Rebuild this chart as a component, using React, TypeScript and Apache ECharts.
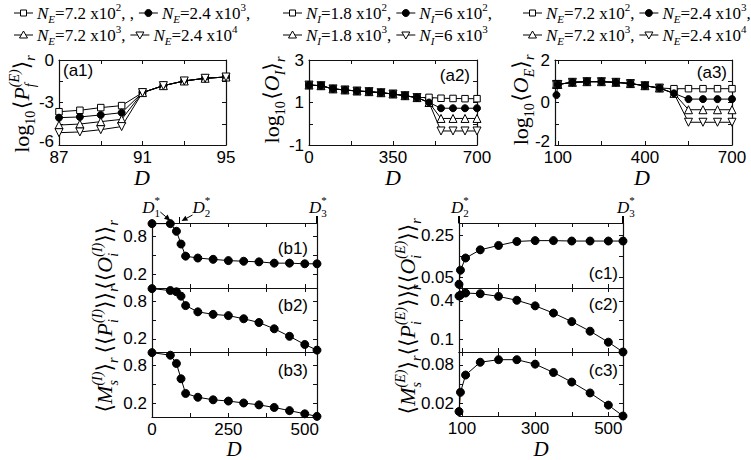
import React, { useEffect, useRef } from 'react';
import * as echarts from 'echarts';

const SERIF = "'Liberation Serif', 'DejaVu Serif', serif";
const SANS = "'Liberation Sans', Arial, sans-serif";

// ---------- data ----------
const a1D = [87, 88, 89, 90, 91, 92, 93, 94, 95];
const a1Sq = [-3.65, -3.55, -3.36, -3.22, -2.3, -1.81, -1.48, -1.29, -1.2];
const a1Fill = [-4.07, -4.02, -3.88, -3.72, -2.3, -1.81, -1.48, -1.29, -1.2];
const a1Up = [-4.59, -4.52, -4.35, -4.19, -2.3, -1.81, -1.48, -1.29, -1.2];
const a1Down = [-5.13, -5.08, -4.92, -4.7, -2.3, -1.81, -1.48, -1.29, -1.2];

const a2D = [0, 50, 100, 150, 200, 250, 300, 350, 400, 450, 500, 550, 600, 650, 700];
const a2Sq = [1.82, 1.79, 1.64, 1.59, 1.54, 1.51, 1.46, 1.4, 1.32, 1.23, 1.24, 1.2, 1.19, 1.18, 1.18];
const a2Fill = [1.82, 1.79, 1.64, 1.59, 1.54, 1.51, 1.46, 1.4, 1.32, 1.23, 1.0, 0.73, 0.73, 0.73, 0.73];
const a2Up = [1.82, 1.79, 1.64, 1.59, 1.54, 1.51, 1.46, 1.4, 1.32, 1.23, 1.0, 0.25, 0.25, 0.25, 0.25];
const a2Down = [1.82, 1.79, 1.64, 1.59, 1.54, 1.51, 1.46, 1.4, 1.32, 1.23, 1.0, -0.34, -0.34, -0.34, -0.34];

const a3D = [95, 100, 150, 200, 250, 300, 350, 400, 450, 500, 550, 600, 650, 700];
const a3Sq = [0.85, 0.85, 0.95, 0.98, 0.98, 0.95, 0.89, 0.79, 0.68, 0.65, 0.65, 0.65, 0.65, 0.65];
const a3Fill = [0.35, 0.85, 0.95, 0.98, 0.98, 0.95, 0.89, 0.79, 0.68, 0.43, 0.16, 0.16, 0.16, 0.16];
const a3Up = [0.85, 0.85, 0.95, 0.98, 0.98, 0.95, 0.89, 0.79, 0.68, 0.43, -0.34, -0.34, -0.34, -0.34];
const a3Down = [0.85, 0.85, 0.95, 0.98, 0.98, 0.95, 0.89, 0.79, 0.68, 0.43, -0.93, -0.93, -0.93, -0.93];

const bD = [0, 60, 80, 95, 110, 150, 200, 250, 300, 350, 400, 450, 500, 540];
const b1 = [1.0, 1.0, 0.88, 0.68, 0.49, 0.46, 0.44, 0.42, 0.41, 0.4, 0.38, 0.38, 0.37, 0.37];
const b2 = [1.0, 0.97, 0.95, 0.88, 0.73, 0.63, 0.59, 0.57, 0.52, 0.46, 0.36, 0.24, 0.11, 0.02];
const b3 = [1.0, 0.96, 0.83, 0.59, 0.36, 0.3, 0.26, 0.24, 0.21, 0.18, 0.14, 0.09, 0.04, 0.0];

const cD = [92, 96, 110, 150, 200, 250, 300, 350, 400, 450, 500, 540];
const c1 = [0.018, 0.085, 0.143, 0.182, 0.203, 0.222, 0.226, 0.226, 0.224, 0.224, 0.224, 0.224];
const c2 = [0.438, 0.445, 0.461, 0.456, 0.435, 0.405, 0.362, 0.306, 0.24, 0.166, 0.081, 0.005];
const c3 = [0.007, 0.037, 0.064, 0.084, 0.088, 0.088, 0.081, 0.068, 0.053, 0.036, 0.017, 0.0];

// tick values
const a1XTicks = [87, 89, 91, 93, 95];
const a1XLabels = [87, 91, 95];
const a1YTicks = [-6, -4.5, -3, -1.5, 0];
const a1YLabels = [-6, -3, 0];
const a2XTicks = [0, 175, 350, 525, 700];
const a2XLabels = [0, 350, 700];
const a2YTicks = [-1, 0, 1, 2, 3];
const a2YLabels = [-1, 1, 3];
const a3XTicks = [100, 250, 400, 550, 700];
const a3XLabels = [100, 400, 700];
const a3YTicks = [-2, -1, 0, 1, 2];
const a3YLabels = [-2, 0, 2];
const bXTicks = [0, 125, 250, 375, 500];
const bXLabels = [0, 250, 500];
const bYTicks = [0.2, 0.5, 0.8];
const bYLabels = [0.2, 0.8];
const cXTicks = [100, 200, 300, 400, 500];
const cXLabels = [100, 300, 500];
const c1YTicks = [0.05, 0.15, 0.25];
const c1YLabels = [0.05, 0.25];
const c2YTicks = [0.1, 0.25, 0.4];
const c2YLabels = [0.1, 0.4];
const c3YTicks = [0.02, 0.05, 0.08];
const c3YLabels = [0.02, 0.08];

const panelNames = ['(a1)', '(a2)', '(a3)', '(b1)', '(b2)', '(b3)', '(c1)', '(c2)', '(c3)'];

// ---------- text layout helpers ----------
type Seg = { t: string; it?: boolean; sz?: number; dy?: number; ov?: boolean; ff?: string };
let mctx: CanvasRenderingContext2D | null = null;
function measure(t: string, font: string) {
  if (!mctx) mctx = document.createElement('canvas').getContext('2d');
  mctx!.font = font;
  return mctx!.measureText(t).width;
}
function layout(segs: Seg[], base: number, ff = SERIF) {
  const children: any[] = [];
  let x = 0, ps = 0, pe = 0;
  for (const s of segs) {
    const sz = s.sz ?? base;
    const fam = s.ff ?? ff;
    const fs = s.it ? 'italic' : 'normal';
    const w = measure(s.t, `${fs} ${sz}px ${fam}`);
    const st = s.ov ? ps : x;
    children.push({
      type: 'text', x: st, y: (s.dy ?? 0) - 0.34 * sz, silent: true,
      style: { text: s.t, fontSize: sz, fontFamily: fam, fontStyle: fs, fill: '#000', lineHeight: Math.round(sz * 1.05), textAlign: 'left', textVerticalAlign: 'middle', verticalAlign: 'middle' },
    });
    if (s.ov) x = Math.max(pe, st + w);
    else { ps = st; pe = st + w; x = pe; }
  }
  return { children, width: x };
}
function hText(segs: Seg[], base: number, x: number, baseline: number, align: 'left' | 'center' | 'right' = 'left', ff = SERIF) {
  const l = layout(segs, base, ff);
  const x0 = align === 'left' ? x : align === 'center' ? x - l.width / 2 : x - l.width;
  return { el: { type: 'group', x: x0, y: baseline, children: l.children }, width: l.width };
}
function vText(segs: Seg[], base: number, baselineX: number, centerY: number) {
  const l = layout(segs, base);
  return { type: 'group', x: baselineX, y: centerY + l.width / 2, rotation: Math.PI / 2, children: l.children };
}

const sub = (t: string, it = true): Seg => ({ t, it, sz: 14, dy: 6 });
const sup = (t: string, ov = false): Seg => ({ t, it: true, sz: 14, dy: -10, ov });
const LOG10: Seg[] = [{ t: 'log' }, { t: '10', sz: 14, dy: 6 }, { t: ' ', sz: 6 }];

const yLabelA1: Seg[] = [...LOG10, { t: '⟨' }, { t: 'P', it: true }, sub('f'), sup('(E)', true), { t: '⟩' }, sub('r')];
const yLabelA2: Seg[] = [...LOG10, { t: '⟨' }, { t: 'O', it: true }, sub('I'), { t: '⟩' }, sub('r')];
const yLabelA3: Seg[] = [...LOG10, { t: '⟨' }, { t: 'O', it: true }, sub('E'), { t: '⟩' }, sub('r')];
const yLabelB1: Seg[] = [{ t: '⟨⟨' }, { t: 'O', it: true }, sub('i'), sup('(I)', true), { t: '⟩⟩' }, sub('r')];
const yLabelB2: Seg[] = [{ t: '⟨⟨' }, { t: 'P', it: true }, sub('i'), sup('(I)', true), { t: '⟩⟩' }, sub('r')];
const yLabelB3: Seg[] = [{ t: '⟨' }, { t: 'M', it: true }, sub('s'), sup('(I)', true), { t: '⟩' }, sub('r')];
const yLabelC1: Seg[] = [{ t: '⟨⟨' }, { t: 'O', it: true }, sub('i'), sup('(E)', true), { t: '⟩⟩' }, sub('r')];
const yLabelC2: Seg[] = [{ t: '⟨⟨' }, { t: 'P', it: true }, sub('i'), sup('(E)', true), { t: '⟩⟩' }, sub('r')];
const yLabelC3: Seg[] = [{ t: '⟨' }, { t: 'M', it: true }, sub('s'), sup('(E)', true), { t: '⟩' }, sub('r')];

const legN = (idx: string, mant: string, exp: string, tail: string): Seg[] => [
  { t: 'N', it: true }, { t: idx, it: true, sz: 11, dy: 4 }, { t: `=${mant} x10` }, { t: exp, sz: 11, dy: -8 }, { t: tail },
];

type Sym = 'sq' | 'fi' | 'up' | 'dn';
function marker(kind: Sym, cx: number, cy: number) {
  const style = { fill: kind === 'fi' ? '#000' : '#fff', stroke: '#000', lineWidth: 1 };
  if (kind === 'sq') return { type: 'rect', shape: { x: cx - 3, y: cy - 3, width: 6, height: 6 }, style };
  if (kind === 'fi') return { type: 'circle', shape: { cx, cy, r: 3.5 }, style };
  if (kind === 'up') return { type: 'polygon', shape: { points: [[cx, cy - 4], [cx + 4, cy + 3], [cx - 4, cy + 3]] }, style };
  return { type: 'polygon', shape: { points: [[cx, cy + 4], [cx + 4, cy - 3], [cx - 4, cy - 3]] }, style };
}
function legendRow(x0: number, y: number, items: [Sym, Seg[]][]) {
  const els: any[] = [];
  let x = x0;
  for (const [sym, segs] of items) {
    els.push({ type: 'line', shape: { x1: x, y1: y, x2: x + 19, y2: y }, style: { stroke: '#000', lineWidth: 1 } });
    els.push(marker(sym, x + 9.5, y));
    const t = hText(segs, 17, x + 23, y + 6);
    els.push(t.el);
    x = x + 23 + t.width + 5;
  }
  return els;
}

// ---------- option ----------
type AxisCfg = { min: number; max: number; ticks: number[]; labels: number[]; liftMin?: boolean };
type Panel = { grid: any; x: AxisCfg; y: AxisCfg; xLab: boolean };
const panels: Panel[] = [
  { grid: { left: 59, top: 60, width: 167, height: 85 }, x: { min: 87, max: 95, ticks: a1XTicks, labels: a1XLabels }, y: { min: -6, max: 0, ticks: a1YTicks, labels: a1YLabels, liftMin: true }, xLab: true },
  { grid: { left: 309, top: 60, width: 168, height: 85 }, x: { min: 0, max: 700, ticks: a2XTicks, labels: a2XLabels }, y: { min: -1, max: 3, ticks: a2YTicks, labels: a2YLabels }, xLab: true },
  { grid: { left: 555, top: 60, width: 177, height: 85 }, x: { min: 90, max: 700, ticks: a3XTicks, labels: a3XLabels }, y: { min: -2, max: 2, ticks: a3YTicks, labels: a3YLabels, liftMin: true }, xLab: true },
  { grid: { left: 152, top: 223, width: 165, height: 65 }, x: { min: 0, max: 540, ticks: bXTicks, labels: bXLabels }, y: { min: -0.01, max: 1.01, ticks: bYTicks, labels: bYLabels }, xLab: false },
  { grid: { left: 152, top: 288, width: 165, height: 64 }, x: { min: 0, max: 540, ticks: bXTicks, labels: bXLabels }, y: { min: -0.01, max: 1.01, ticks: bYTicks, labels: bYLabels }, xLab: false },
  { grid: { left: 152, top: 352, width: 165, height: 65 }, x: { min: 0, max: 540, ticks: bXTicks, labels: bXLabels }, y: { min: -0.01, max: 1.01, ticks: bYTicks, labels: bYLabels }, xLab: true },
  { grid: { left: 459, top: 223, width: 164, height: 65 }, x: { min: 92, max: 540, ticks: cXTicks, labels: cXLabels }, y: { min: 0, max: 0.31, ticks: c1YTicks, labels: c1YLabels }, xLab: false },
  { grid: { left: 459, top: 288, width: 164, height: 64 }, x: { min: 92, max: 540, ticks: cXTicks, labels: cXLabels }, y: { min: 0.005, max: 0.5, ticks: c2YTicks, labels: c2YLabels }, xLab: false },
  { grid: { left: 459, top: 352, width: 164, height: 64 }, x: { min: 92, max: 540, ticks: cXTicks, labels: cXLabels }, y: { min: 0, max: 0.1, ticks: c3YTicks, labels: c3YLabels }, xLab: true },
];

function mkAxis(kind: 'x' | 'y', gi: number, cfg: AxisCfg, pos: string, showLabel: boolean) {
  const label: any = {
    show: showLabel, customValues: cfg.labels, fontFamily: SANS, fontSize: 17, color: '#000',
    margin: kind === 'x' ? 6 : 5, lineHeight: 12,
  };
  if (cfg.liftMin) {
    label.formatter = (v: number) => (v === cfg.min ? `{lo|${v}}` : `${v}`);
    label.rich = { lo: { fontFamily: SANS, fontSize: 17, color: '#000', lineHeight: 12, padding: [0, 0, 8, 0] } };
  }
  return {
    type: 'value', gridIndex: gi, position: pos, min: cfg.min, max: cfg.max,
    axisLine: { show: true, onZero: false, lineStyle: { color: '#111', width: 1.2 } },
    axisTick: { show: true, inside: true, length: 4, customValues: cfg.ticks, lineStyle: { color: '#111', width: 1 } },
    axisLabel: label,
    splitLine: { show: false },
  };
}

const pts = (xs: number[], ys: number[]) => xs.map((x, i) => [x, ys[i]]);
function ser(gi: number, data: number[][], sym: Sym, size = 7) {
  const hollow = sym !== 'fi';
  return {
    type: 'line', xAxisIndex: gi * 2, yAxisIndex: gi * 2, data, clip: false, silent: true,
    symbol: sym === 'sq' ? 'rect' : sym === 'fi' ? 'circle' : 'triangle',
    symbolRotate: sym === 'dn' ? 180 : 0,
    symbolSize: sym === 'up' || sym === 'dn' ? size + 1 : sym === 'sq' ? size - 0.5 : size,
    showSymbol: true,
    lineStyle: { color: '#000', width: 1 },
    itemStyle: { color: hollow ? '#fff' : '#000', borderColor: '#000', borderWidth: 1, opacity: 1 },
    emphasis: { disabled: true },
  };
}

function buildOption() {
  const xAxis: any[] = [], yAxis: any[] = [];
  panels.forEach((p, gi) => {
    xAxis.push(mkAxis('x', gi, p.x, 'bottom', p.xLab));
    xAxis.push(mkAxis('x', gi, p.x, 'top', false));
    yAxis.push(mkAxis('y', gi, p.y, 'left', true));
    yAxis.push(mkAxis('y', gi, p.y, 'right', false));
  });
  const series = [
    ser(0, pts(a1D, a1Sq), 'sq'), ser(0, pts(a1D, a1Fill), 'fi'), ser(0, pts(a1D, a1Up), 'up'), ser(0, pts(a1D, a1Down), 'dn'),
    ser(1, pts(a2D, a2Down), 'dn'), ser(1, pts(a2D, a2Up), 'up'), ser(1, pts(a2D, a2Sq), 'sq'), ser(1, pts(a2D, a2Fill), 'fi'),
    ser(2, pts(a3D, a3Down), 'dn'), ser(2, pts(a3D, a3Up), 'up'), ser(2, pts(a3D, a3Sq), 'sq'), ser(2, pts(a3D, a3Fill), 'fi'),
    ser(3, pts(bD, b1), 'fi', 8), ser(4, pts(bD, b2), 'fi', 8), ser(5, pts(bD, b3), 'fi', 8),
    ser(6, pts(cD, c1), 'fi', 8), ser(7, pts(cD, c2), 'fi', 8), ser(8, pts(cD, c3), 'fi', 8),
  ];
  return {
    animation: false,
    backgroundColor: '#fff',
    grid: panels.map((p) => ({ ...p.grid, containLabel: false })),
    xAxis, yAxis, series,
  };
}

function dStar(idx: string, x: number, baseline: number) {
  return hText([{ t: 'D', it: true }, { t: '*', sz: 11, dy: -9 }, { t: idx, sz: 11, dy: 4, ov: true }], 17, x, baseline).el;
}
function arrow(x1: number, y1: number, x2: number, y2: number) {
  const a = Math.atan2(y2 - y1, x2 - x1);
  const L = 6, W = 2.8;
  const bx = x2 - L * Math.cos(a), by = y2 - L * Math.sin(a);
  const nx = -Math.sin(a) * W, ny = Math.cos(a) * W;
  return [
    { type: 'line', shape: { x1, y1, x2: bx, y2: by }, style: { stroke: '#000', lineWidth: 1 } },
    { type: 'polygon', shape: { points: [[x2, y2], [bx + nx, by + ny], [bx - nx, by - ny]] }, style: { fill: '#000' } },
  ];
}

function buildGraphic(chart: any) {
  const els: any[] = [];
  // legends
  els.push(...legendRow(14, 13, [['sq', legN('E', '7.2', '2', ', ,')], ['fi', legN('E', '2.4', '3', ',')]]));
  els.push(...legendRow(14, 35, [['up', legN('E', '7.2', '3', ',')], ['dn', legN('E', '2.4', '4', '')]]));
  els.push(...legendRow(283, 13, [['sq', legN('I', '1.8', '2', ',')], ['fi', legN('I', '6', '2', ',')]]));
  els.push(...legendRow(283, 35, [['up', legN('I', '1.8', '3', ',')], ['dn', legN('I', '6', '3', '')]]));
  els.push(...legendRow(523, 13, [['sq', legN('E', '7.2', '2', ',')], ['fi', legN('E', '2.4', '3', ',')]]));
  els.push(...legendRow(523, 35, [['up', legN('E', '7.2', '3', ',')], ['dn', legN('E', '2.4', '4', '')]]));
  // y labels
  els.push(vText(yLabelA1, 22, 29, 104));
  els.push(vText(yLabelA2, 22, 279, 100));
  els.push(vText(yLabelA3, 22, 528, 100));
  els.push(vText(yLabelB1, 22, 112, 255));
  els.push(vText(yLabelB2, 22, 112, 320));
  els.push(vText(yLabelB3, 22, 112, 385));
  els.push(vText(yLabelC1, 22, 415, 255));
  els.push(vText(yLabelC2, 22, 415, 320));
  els.push(vText(yLabelC3, 22, 415, 385));
  // x names
  const D: Seg[] = [{ t: 'D', it: true }];
  els.push(hText(D, 22, 142, 185, 'center').el);
  els.push(hText(D, 22, 393, 185, 'center').el);
  els.push(hText(D, 22, 642, 185, 'center').el);
  els.push(hText(D, 21, 234, 456.5, 'center').el);
  els.push(hText(D, 21, 541, 456.5, 'center').el);
  // panel labels
  const pl: [number, number, 'left' | 'right'][] = [
    [63, 76, 'left'], [470, 81, 'right'], [727, 78, 'right'],
    [308, 254, 'right'], [308, 311, 'right'], [308, 376, 'right'],
    [618, 279, 'right'], [618, 310, 'right'], [618, 376, 'right'],
  ];
  pl.forEach(([x, y, al], i) => {
    els.push(hText([{ t: panelNames[i] }], 17, x, y, al, SANS).el);
  });
  // D* annotations
  const p1 = chart.convertToPixel({ xAxisIndex: 6, yAxisIndex: 6 }, [60, 1.0]);
  const p2 = chart.convertToPixel({ xAxisIndex: 6, yAxisIndex: 6 }, [90, 1.01]);
  const p3 = chart.convertToPixel({ xAxisIndex: 6, yAxisIndex: 6 }, [540, 1.01]);
  const q2 = chart.convertToPixel({ xAxisIndex: 12, yAxisIndex: 12 }, [92, 0.31]);
  const q3 = chart.convertToPixel({ xAxisIndex: 12, yAxisIndex: 12 }, [540, 0.31]);
  els.push(dStar('1', p1[0] - 28, 213));
  els.push(...arrow(p1[0] - 10, 212, p1[0], p1[1] - 3));
  els.push({ type: 'line', shape: { x1: p2[0], y1: p2[1] - 6, x2: p2[0], y2: p2[1] }, style: { stroke: '#000', lineWidth: 1 } });
  els.push(dStar('2', p2[0] + 13, 213));
  els.push(...arrow(p2[0] + 13, 215, p2[0] + 2, p2[1] - 2));
  els.push({ type: 'line', shape: { x1: p3[0], y1: p3[1] - 7, x2: p3[0], y2: p3[1] }, style: { stroke: '#000', lineWidth: 2 } });
  els.push(dStar('3', p3[0] - 8, 213));
  els.push({ type: 'line', shape: { x1: q2[0], y1: q2[1] - 7, x2: q2[0], y2: q2[1] }, style: { stroke: '#000', lineWidth: 2 } });
  els.push(dStar('2', q2[0] - 8, 213));
  els.push({ type: 'line', shape: { x1: q3[0], y1: q3[1] - 7, x2: q3[0], y2: q3[1] }, style: { stroke: '#000', lineWidth: 2 } });
  els.push(dStar('3', q3[0] - 6, 213));
  return els.map((e) => ({ ...e, silent: true }));
}

export default function App() {
  const ref = useRef<HTMLDivElement>(null);
  useEffect(() => {
    const chart = echarts.init(ref.current!, null, { renderer: 'svg' });
    chart.setOption(buildOption() as any);
    chart.setOption({ graphic: { elements: buildGraphic(chart) } } as any);
    return () => chart.dispose();
  }, []);
  return <div ref={ref} style={{ position: 'absolute', left: 0, top: 0, width: 751, height: 460, background: '#fff' }} />;
}
